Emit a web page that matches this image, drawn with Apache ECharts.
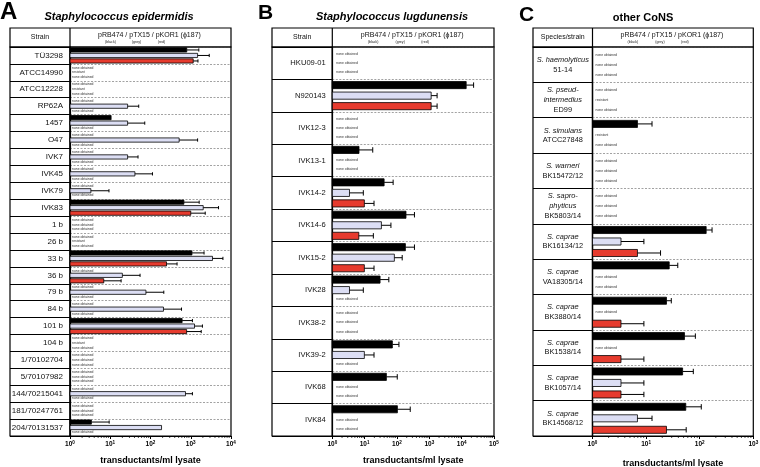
<!DOCTYPE html>
<html><head><meta charset="utf-8">
<script src="https://cdn.jsdelivr.net/npm/echarts@6/dist/echarts.min.js"></script>
<style>html,body{margin:0;padding:0;background:#fff}#c{width:760px;height:467px}</style>
</head><body><div id="c"></div>
<script>
const N = 'none obtained', R = 'resistant';

// Panel A: Staphylococcus epidermidis
const strainsA = ['TÜ3298','ATCC14990','ATCC12228','RP62A','1457','O47','IVK7','IVK45','IVK79','IVK83','1 b','26 b','33 b','36 b','79 b','84 b','101 b','104 b','1/70102704','5/70107982','144/70215041','181/70247761','204/70131537'];
const blackA    = [795,N,N,N,10.5,N,N,N,N,675,N,N,1070,N,N,N,610,N,N,N,N,N,3.4];
const blackErrA = [1585,0,0,0,0,0,0,0,0,1620,0,0,2140,0,0,0,1100,0,0,0,0,0,9.4];
const greyA     = [1480,R,R,27,27,515,27,41,3.3,2040,N,R,3470,20,77,210,1240,R,N,N,740,N,188];
const greyErrA  = [2880,0,0,51,72,1480,49,112,9.3,4900,0,0,6300,55,214,590,1950,0,0,0,1100,0,0];
const redA      = [1150,N,N,N,N,N,N,N,N,1000,N,N,250,6.9,N,N,790,N,N,N,N,N,N];
const redErrA   = [1510,0,0,0,0,0,0,0,0,2290,0,0,457,18.6,0,0,1820,0,0,0,0,0,0];

// Panel B: Staphylococcus lugdunensis
const strainsB = ['HKU09-01','N920143','IVK12-3','IVK13-1','IVK14-2','IVK14-6','IVK15-2','IVK28','IVK38-2','IVK39-2','IVK68','IVK84'];
const blackB    = [N,13800,N,6.7,40,190,182,30,N,72,47,103];
const blackErrB = [0,23400,0,17.8,76,347,347,56,0,115,102,257];
const greyB     = [N,1140,N,N,3.4,33,83,3.4,N,9.8,N,N];
const greyErrB  = [0,1740,0,0,9.1,65,145,9.1,0,19.5,0,0];
const redB      = [N,1140,N,N,9.8,6.6,9.8,N,N,N,N,N];
const redErrB   = [0,1740,0,0,19.5,18.6,19.5,0,0,0,0,0];

// Panel C: other CoNS
const speciesC  = ['S. haemolyticus','S. pseud-\nintermedius','S. simulans','S. warneri','S. sapro-\nphyticus','S. caprae','S. caprae','S. caprae','S. caprae','S. caprae','S. caprae'];
const isolatesC = ['51-14','ED99','ATCC27848','BK15472/12','BK5803/14','BK16134/12','VA18305/14','BK3880/14','BK1538/14','BK1057/14','BK14568/12'];
const blackC    = [N,N,6.9,N,N,132,27,24,52,48,55];
const blackErrC = [0,0,12.9,0,0,170,39,29.5,83,76,107];
const greyC     = [N,R,R,N,N,3.4,N,N,N,3.4,6.9];
const greyErrC  = [0,0,0,0,0,9.1,0,0,0,9.1,12.9];
const redC      = [N,N,N,N,N,6.9,N,3.4,3.4,3.4,24];
const redErrC   = [0,0,0,0,0,18.6,0,9.1,9.1,9.1,56];

const decadesA = 4, decadesB = 5, decadesC = 3;

const FONT = "'Liberation Sans', Arial, Helvetica, sans-serif";
const TOP = 47, BOTTOM = 436, HTOP = 28;
const COLORS = ['#000000', '#dcdef4', '#e63b2e'];

const stringsC = speciesC.map((s, i) => s + '\n' + isolatesC[i]);

const panels = [
  {L: 10, D: 70, R: 231, dec: decadesA, cats: strainsA,
   sets: [[blackA, blackErrA], [greyA, greyErrA], [redA, redErrA]], frac: 0.25,
   lab: {margin: 7, align: 'right', fontSize: 8}, head: 'Strain',
   title: 'Staphylococcus epidermidis', italic: true, titleX: 119, titleY: 17,
   letter: 'A', letterX: 0, letterY: 12.5, letterSize: 24, noteDx: 2, subOff: [-40, -14, 11], nameGap: 20},
  {L: 272, D: 332.3, R: 494, dec: decadesB, cats: strainsB,
   sets: [[blackB, blackErrB], [greyB, greyErrB], [redB, redErrB]], frac: 0.22,
   lab: {margin: 6.5, align: 'right', fontSize: 7.6}, head: 'Strain',
   title: 'Staphylococcus lugdunensis', italic: true, titleX: 392, titleY: 17,
   letter: 'B', letterX: 258, letterY: 13, letterSize: 21, noteDx: 4, subOff: [-40, -13, 12], nameGap: 20},
  {L: 533, D: 592.5, R: 753.3, dec: decadesC, cats: stringsC,
   sets: [[blackC, blackErrC], [greyC, greyErrC], [redC, redErrC]], frac: 0.2,
   lab: {margin: 29.7, align: 'center', fontSize: 7.4, multi: true}, head: 'Species/strain',
   title: 'other CoNS', italic: false, titleX: 643, titleY: 18,
   letter: 'C', letterX: 519, letterY: 15, letterSize: 21, noteDx: 3, subOff: [-40, -13, 12], nameGap: 23}
];

const grid = [], xAxis = [], yAxis = [], series = [], graphic = [];

panels.forEach((p, pi) => {
  const n = p.cats.length;
  const gCol = pi * 2, gPlot = pi * 2 + 1;
  const max = Math.pow(10, p.dec);
  grid.push({left: p.L, top: TOP, width: p.D - p.L, height: BOTTOM - TOP, show: true,
             borderColor: '#000', borderWidth: 1.2, backgroundColor: 'transparent', containLabel: false, outerBoundsMode: 'none'});
  grid.push({left: p.D, top: TOP, width: p.R - p.D, height: BOTTOM - TOP, show: true,
             borderColor: '#000', borderWidth: 1.2, backgroundColor: 'transparent', containLabel: false, outerBoundsMode: 'none'});
  xAxis.push({gridIndex: gCol, type: 'value', show: false, min: 0, max: 1});
  xAxis.push({gridIndex: gPlot, type: 'log', logBase: 10, min: 1, max: max, interval: 1,
    axisLine: {show: true, lineStyle: {color: '#000', width: 1.2}},
    axisTick: {show: true, length: 3, inside: false, lineStyle: {color: '#000', width: 1}},
    splitLine: {show: false}, minorTick: {show: false},
    axisLabel: {margin: 4, showMinLabel: true, showMaxLabel: true, hideOverlap: false,
      formatter: v => '{b|10}{s|' + Math.round(Math.log10(v)) + '}',
      rich: {b: {fontSize: 6.5, fontWeight: 'bold', fontFamily: FONT, color: '#000'},
             s: {fontSize: 4.6, fontWeight: 'bold', fontFamily: FONT, color: '#000', verticalAlign: 'top', padding: [0, 0, 3, 0]}}},
    name: 'transductants/ml lysate', nameLocation: 'middle', nameGap: p.nameGap,
    nameTextStyle: {fontFamily: FONT, fontWeight: 'bold', fontSize: 9, color: '#000'}});
  yAxis.push({gridIndex: gCol, type: 'category', data: p.cats, inverse: true,
    axisLine: {show: false}, axisTick: {show: false}, axisLabel: {show: false},
    splitLine: {show: true, lineStyle: {color: '#000', width: 1}}});
  const lab = p.lab;
  yAxis.push({gridIndex: gPlot, type: 'category', data: p.cats, inverse: true,
    axisLine: {show: true, lineStyle: {color: '#000', width: 1.2}}, axisTick: {show: false},
    splitLine: {show: true, lineStyle: {color: '#8a8a8a', width: 0.8, type: [2, 1.5]}},
    axisLabel: {show: true, interval: 0, margin: lab.margin, align: lab.align, fontFamily: FONT,
      fontSize: lab.fontSize, color: '#111',
      formatter: lab.multi ? (v => {
        const lines = v.split('\n');
        return lines.map((l, k) => (k === lines.length - 1 ? '{n|' : '{i|') + l + '}').join('\n');
      }) : (v => v),
      rich: lab.multi ? {i: {fontStyle: 'italic', fontSize: lab.fontSize, fontFamily: FONT, lineHeight: 9.7, color: '#111', align: 'center'},
                         n: {fontSize: lab.fontSize, fontFamily: FONT, lineHeight: 9.7, color: '#111', align: 'center'}} : undefined}});

  // bars + error bars
  p.sets.forEach((set, slot) => {
    const vals = set[0], errs = set[1];
    const data = [];
    vals.forEach((v, i) => { if (typeof v === 'number') data.push([v, i, errs[i]]); });
    const off = (slot - 1) * 0.325;
    series.push({type: 'custom', xAxisIndex: gPlot, yAxisIndex: gPlot, coordinateSystem: 'cartesian2d',
      encode: {x: 0, y: 1}, data: data, clip: false, z: 5, silent: true,
      renderItem: (params, api) => {
        const v = api.value(0), idx = api.value(1), e = api.value(2);
        const cs = params.coordSys;
        const band = cs.height / n;
        const pc = api.coord([v, idx]);
        const x0 = api.coord([1, idx])[0];
        const y = pc[1] + off * band;
        const h = band * p.frac;
        const ch = [{type: 'rect', shape: {x: x0, y: y - h / 2, width: pc[0] - x0, height: h},
                     style: {fill: COLORS[slot], stroke: '#000', lineWidth: 0.8}}];
        if (e > 0) {
          const pe = api.coord([e, idx]);
          ch.push({type: 'line', shape: {x1: pc[0], y1: y, x2: pe[0], y2: y}, style: {stroke: '#000', lineWidth: 1}});
          ch.push({type: 'line', shape: {x1: pe[0], y1: y - h * 0.38, x2: pe[0], y2: y + h * 0.38}, style: {stroke: '#000', lineWidth: 1}});
        }
        return {type: 'group', children: ch};
      }});
  });

  // note texts (none obtained / resistant)
  const notes = [];
  p.sets.forEach((set, slot) => set[0].forEach((v, i) => { if (typeof v === 'string') notes.push({i, slot, t: v}); }));
  series.push({type: 'custom', xAxisIndex: gPlot, yAxisIndex: gPlot, coordinateSystem: 'cartesian2d',
    encode: {x: 0, y: 1}, data: notes.map(o => [1, o.i]), clip: false, z: 4, silent: true,
    renderItem: (params, api) => {
      const o = notes[params.dataIndex];
      const cs = params.coordSys;
      const band = cs.height / n;
      const pc = api.coord([1, o.i]);
      return {type: 'text', x: pc[0] + p.noteDx, y: pc[1] + (o.slot - 1) * 0.28 * band,
        style: {text: o.t, fill: '#333', fontSize: 3.4, fontFamily: FONT, align: 'left', verticalAlign: 'middle'}};
    }});

  // minor log ticks
  const minor = [];
  for (let k = 0; k < p.dec; k++) for (let m = 2; m <= 9; m++) minor.push([m * Math.pow(10, k), 0]);
  series.push({type: 'custom', xAxisIndex: gPlot, yAxisIndex: gPlot, coordinateSystem: 'cartesian2d',
    encode: {x: 0, y: 1}, data: minor, clip: false, z: 6, silent: true,
    renderItem: (params, api) => {
      const cs = params.coordSys;
      const x = api.coord([api.value(0), 0])[0];
      const yb = cs.y + cs.height;
      return {type: 'line', shape: {x1: x, y1: yb, x2: x, y2: yb + 2}, style: {stroke: '#000', lineWidth: 0.7}};
    }});

  // header
  const cx = (p.D + p.R) / 2;
  graphic.push({type: 'rect', shape: {x: p.L, y: HTOP, width: p.R - p.L, height: TOP - HTOP},
    style: {fill: 'rgba(0,0,0,0)', stroke: '#000', lineWidth: 1.2}, z: 10});
  graphic.push({type: 'line', shape: {x1: p.D, y1: HTOP, x2: p.D, y2: TOP}, style: {stroke: '#000', lineWidth: 1.2}, z: 10});
  graphic.push({type: 'text', x: (p.L + p.D) / 2, y: 37.5, z: 10,
    style: {text: p.head, fontSize: 7, fontFamily: FONT, fill: '#111', align: 'center', verticalAlign: 'middle'}});
  graphic.push({type: 'text', x: cx - 1, y: 35, z: 10,
    style: {text: 'pRB474 / pTX15 / pKOR1 (ϕ187)', fontSize: 7, fontFamily: FONT, fill: '#111', align: 'center', verticalAlign: 'middle'}});
  ['(black)', '(grey)', '(red)'].forEach((t, k) => graphic.push({type: 'text', x: cx + p.subOff[k], y: 42.3, z: 10,
    style: {text: t, fontSize: 3.6, fontFamily: FONT, fill: '#222', align: 'center', verticalAlign: 'middle'}}));
  // title and panel letter
  graphic.push({type: 'text', x: p.titleX, y: p.titleY, z: 10,
    style: {text: p.title, fontSize: 11, fontWeight: 'bold', fontStyle: p.italic ? 'italic' : 'normal',
            fontFamily: FONT, fill: '#000', align: 'center', verticalAlign: 'middle'}});
  graphic.push({type: 'text', x: p.letterX, y: p.letterY, z: 10,
    style: {text: p.letter, fontSize: p.letterSize, fontWeight: 'bold', fontFamily: FONT, fill: '#000',
            align: 'left', verticalAlign: 'middle'}});
});

const chart = echarts.init(document.getElementById('c'), null, {renderer: 'canvas'});
chart.setOption({animation: false, backgroundColor: '#fff', grid, xAxis, yAxis, series, graphic: {elements: graphic}});
</script>
</body></html>
